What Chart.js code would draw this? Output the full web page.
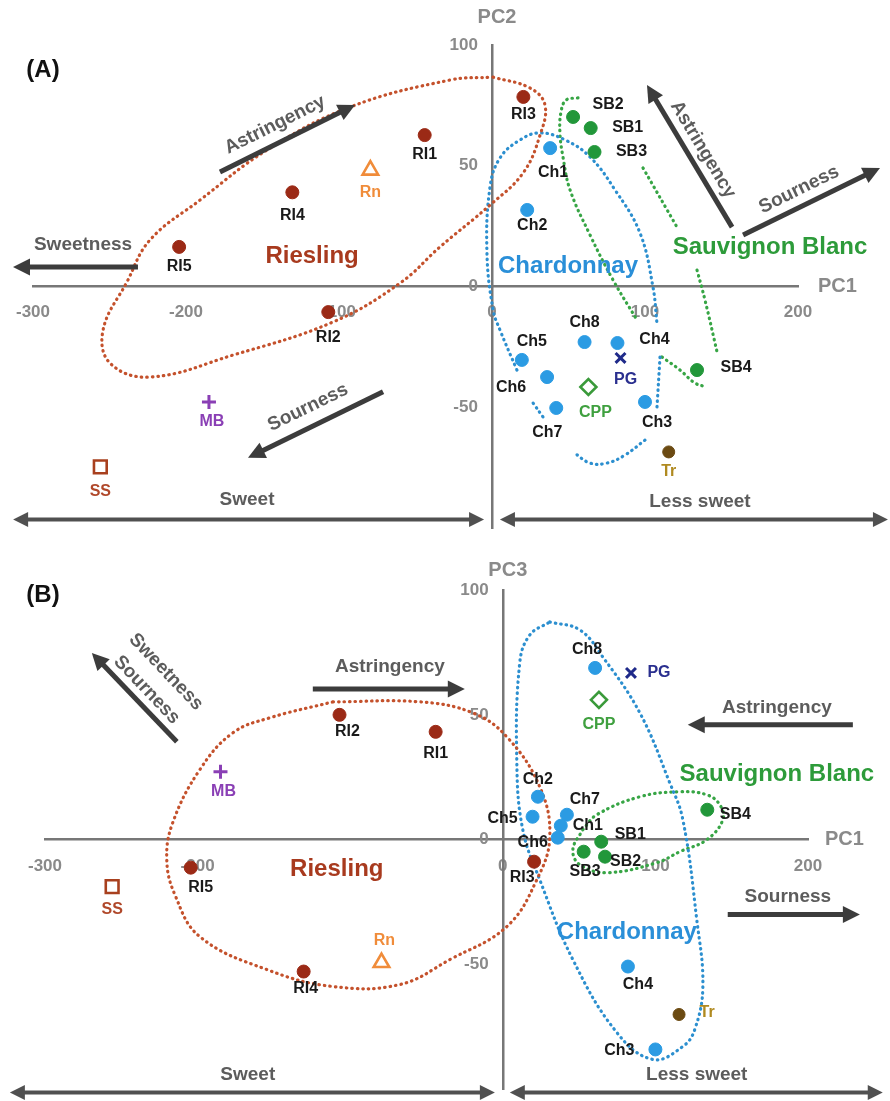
<!DOCTYPE html>
<html>
<head>
<meta charset="utf-8">
<script src="https://cdn.jsdelivr.net/npm/chart.js@4.4.1/dist/chart.umd.min.js"></script>
<style>
  html, body { margin: 0; padding: 0; background: #fff; }
  canvas { display: block; }
</style>
</head>
<body>
<canvas id="pcA" width="890" height="540"></canvas>
<canvas id="pcB" width="890" height="561"></canvas>
<script>
// PCA scores
const samples = ['RI1','RI2','RI3','RI4','RI5','Ch1','Ch2','Ch3','Ch4','Ch5','Ch6','Ch7','Ch8','SB1','SB2','SB3','SB4','Tr','Rn','SS','MB','PG','CPP'];
const sampleGroup = ['Riesling','Riesling','Riesling','Riesling','Riesling',
  'Chardonnay','Chardonnay','Chardonnay','Chardonnay','Chardonnay','Chardonnay','Chardonnay','Chardonnay',
  'Sauvignon Blanc','Sauvignon Blanc','Sauvignon Blanc','Sauvignon Blanc','Tr','Rn','SS','MB','PG','CPP'];
const pc1 = [-44, -107, 20.5, -130.5, -204.5, 38, 23, 100, 82, 19.5, 36, 42, 60.5, 64.5, 53, 67, 134, 115.5, -79.5, -256, -185, 84, 63];
const pc2 = [62.7, -10.6, 78.5, 39, 16.4, 57.3, 31.7, -47.8, -23.4, -30.4, -37.5, -50.3, -23, 65.6, 70.2, 55.7, -34.6, -68.5, 48.2, -74.7, -47.8, -29.6, -41.6];
const pc3 = [43.2, 50, -8.8, -52.8, -11.2, 5.6, 17.2, -84, -50.8, 9.2, 0.8, 10, 68.8, -0.8, -4.8, -6.8, 12, -70, -49.2, -18.8, 27.2, 66.8, 56];

const xTicksA = [-300, -200, -100, 0, 100, 200];
const xTicksB = [-300, -200, 0, 100, 200];   // -100 sits under the "Riesling" label in (B)
const yTicks = [100, 50, 0, -50];

// hand-drawn group outlines (PC1, PCy)
const rieslingA = [[0.7,86.7],[24.8,82.2],[34.6,75.2],[31.4,62.7],[20.3,47],[-1.3,33.7],[-34,16.4],[-60.1,1.4],[-103.9,-14.7],[-169.3,-28.4],[-223.5,-37.5],[-249.7,-31.7],[-254.2,-18],[-238.6,1.9],[-223.5,19.3],[-190.8,35.8],[-147.1,56.5],[-92.8,74.3],[-27.5,85.5],[0.7,86.7]];
const chardA1 = [[33.3,-54],[26.8,-48.2]];
const chardA2 = [[16.3,-34.6],[5.2,-18],[0.7,-9.7],[-3.3,13.9],[-1.3,41.2],[5.2,53.2],[18.3,60.7],[31.4,63.6],[47.7,60.7],[64.1,53.6],[80.4,40],[96.7,22.2],[105.2,-0.2],[107.8,-15.1]];
const chardA3 = [[109.8,-29.2],[107.8,-50.3]];
const chardA4 = [[100,-63.6],[86.9,-69.8],[75.2,-73.1],[64.1,-73.1],[52.9,-68.5]];
const sauvA1 = [[56.2,78.1],[48.4,77.2],[45.1,72.3],[44.4,63.6],[46.4,53.6],[51,40],[64.1,21.3],[79.1,2.7],[94.8,-13.9]];
const sauvA2 = [[98.7,49.1],[120.9,24.6]];
const sauvA3 = [[134,6.8],[139.2,-5.6],[147.1,-27.1]];
const sauvA4 = [[111.1,-29.2],[122.9,-34.6],[132.7,-40],[140.5,-41.6]];
const chardB = [[30.8,87.2],[50.5,84],[65.5,73.2],[89.8,50.8],[109.4,22.8],[118,8],[127.1,-32],[131.1,-58.8],[125.8,-76],[118,-82.8],[98.3,-88],[74.7,-77.2],[45.9,-48],[24.2,-16],[13.1,4],[9.2,30.8],[11.1,70.8],[17.7,82],[30.8,87.2]];
const rieslingB = [[-111.4,55.2],[-152.7,48.8],[-176.9,42.8],[-198.6,28],[-216.3,6.8],[-220.2,-8],[-214.9,-22],[-198.6,-38.8],[-154.7,-52],[-111.4,-58.8],[-67.5,-58],[-34.7,-48],[2.6,-34.8],[22.3,-16],[30.8,1.2],[24.2,21.2],[2.6,41.2],[-19.7,50.8],[-54.4,55.2],[-111.4,55.2]];
const sauvB = [[52.4,4],[61.6,10],[89.8,17.2],[116,19.2],[133.7,18],[142.2,14],[144.2,8],[133.7,0],[116,-4.8],[100.9,-9.2],[68.2,-13.2],[50.5,-10],[45.9,-4],[52.4,4]];

const FONT = '"Liberation Sans", Arial, sans-serif';
const RED = '#c4512c', BLUE = '#2c8fcf', GREEN = '#37a545';

const groupStyle = {
  'Riesling':        { color: '#9b2a16', style: 'circle',   r: 6.5, hollow: false, label: '#1a1a1a' },
  'Chardonnay':      { color: '#2b9be3', style: 'circle',   r: 6.5, hollow: false, label: '#1a1a1a' },
  'Sauvignon Blanc': { color: '#22973a', style: 'circle',   r: 6.5, hollow: false, label: '#1a1a1a' },
  'Tr':              { color: '#6b4a12', style: 'circle',   r: 6,   hollow: false, label: '#b08a20' },
  'Rn':              { color: '#f08c3a', style: 'triangle', r: 9,   hollow: true,  label: '#f08c3a' },
  'SS':              { color: '#a8401e', style: 'rect',     r: 9,   hollow: true,  label: '#b0482a' },
  'MB':              { color: '#8a3fb5', style: 'cross',    r: 7,   hollow: false, label: '#8a3fb5' },
  'PG':              { color: '#1f2a8a', style: 'crossRot', r: 7,   hollow: false, label: '#2a2f8f' },
  'CPP':             { color: '#3a9a3a', style: 'rectRot',  r: 8,   hollow: true,  label: '#3fa03f' }
};

const panelA = {
  tag: '(A)', tagAt: [43, 70], yTitle: 'PC2', yTitleGap: 28, xTitleGap: 20, xTicks: xTicksA,
  outlines: [[rieslingA, RED], [chardA1, BLUE], [chardA2, BLUE], [chardA3, BLUE], [chardA4, BLUE],
             [sauvA1, GREEN], [sauvA2, GREEN], [sauvA3, GREEN], [sauvA4, GREEN]],
  groupLabels: [
    { text: 'Riesling', at: [-117.6, 12.4], color: '#a83a1e' },
    { text: 'Chardonnay', at: [49.7, 8.3], color: '#2a8fd8' },
    { text: 'Sauvignon Blanc', at: [181.7, 16.1], color: '#2d9b3a' }
  ],
  arrows: [
    { from: [-177.8, 47.4], to: [-89.5, 75.2], texts: [['Astringency', -141.8, 66.9]] },
    { from: [-231.4, 8.1], to: [-313.1, 8.1], texts: [['Sweetness', -267.3, 17.2]] },
    { from: [156.9, 24.6], to: [101.3, 83.4], texts: [['Astringency', 137.9, 56.7]] },
    { from: [164.1, 21.3], to: [253.6, 49.1], texts: [['Sourness', 200.7, 40.1]] },
    { from: [-71.2, -43.6], to: [-159.5, -70.9], texts: [['Sourness', -120.3, -50.1]] },
    { from: [-313, -96.5], to: [-5.2, -96.5], both: true, texts: [['Sweet', -160.1, -88.2]] },
    { from: [5.2, -96.5], to: [258.8, -96.5], both: true, texts: [['Less sweet', 135.9, -89]] }
  ],
  offsets: { RI1:[0,20], RI2:[0,25], RI3:[0,18], RI4:[0,23], RI5:[0,20], Rn:[0,22], SS:[0,25], MB:[3,20],
    Ch1:[3,24], Ch2:[5,16], Ch3:[12,21], Ch4:[37,-3], Ch5:[10,-18], Ch6:[-36,11], Ch7:[-9,25], Ch8:[0,-19],
    PG:[5,22], CPP:[7,26], SB1:[37,0], SB2:[35,-12], SB3:[37,0], SB4:[39,-2], Tr:[0,20] }
};

const panelB = {
  tag: '(B)', tagAt: [43, 55], yTitle: 'PC3', yTitleGap: 20, xTitleGap: 17, xTicks: xTicksB,
  outlines: [[rieslingB, RED], [chardB, BLUE], [sauvB, GREEN]],
  groupLabels: [
    { text: 'Riesling', at: [-108.8, -12], color: '#a83a1e' },
    { text: 'Chardonnay', at: [81.3, -37.2], color: '#2a8fd8' },
    { text: 'Sauvignon Blanc', at: [179.6, 26], color: '#2d9b3a' }
  ],
  arrows: [
    { from: [-213.6, 39.2], to: [-269.3, 74.8], texts: [['Sweetness', -220.8, 67.2], ['Sourness', -233.3, 60]] },
    { from: [-124.5, 60.4], to: [-24.9, 60.4], texts: [['Astringency', -74, 69.2]] },
    { from: [229.4, 46], to: [121.2, 46], texts: [['Astringency', 179.6, 52.8]] },
    { from: [147.4, -30], to: [234, -30], texts: [['Sourness', 186.8, -22.8]] },
    { from: [-323, -101.2], to: [-5.2, -101.2], both: true, texts: [['Sweet', -167.1, -94]] },
    { from: [4.6, -101.2], to: [249, -101.2], both: true, texts: [['Less sweet', 127.1, -94]] }
  ],
  offsets: { RI1:[0,22], RI2:[8,17], RI3:[-12,16], RI4:[2,17], RI5:[10,20], Rn:[3,-22], SS:[0,23], MB:[3,20],
    Ch1:[27,0], Ch2:[0,-17], Ch3:[-36,1], Ch4:[10,18], Ch5:[-30,2], Ch6:[-25,5], Ch7:[18,-15], Ch8:[-8,-18],
    PG:[28,0], CPP:[0,25], SB1:[29,-7], SB2:[42,10], SB3:[-20,15], SB4:[28,5], Tr:[28,-2] }
};

function drawHead(ctx, x, y, ang, len, half) {
  ctx.beginPath();
  ctx.moveTo(x, y);
  ctx.lineTo(x - len * Math.cos(ang) + half * Math.sin(ang), y - len * Math.sin(ang) - half * Math.cos(ang));
  ctx.lineTo(x - len * Math.cos(ang) - half * Math.sin(ang), y - len * Math.sin(ang) + half * Math.cos(ang));
  ctx.closePath();
  ctx.fill();
}

function decor(cfg) {
  return {
    id: 'decor',
    afterDatasetsDraw(chart) {
      const ctx = chart.ctx, xs = chart.scales.x, ys = chart.scales.y;
      const px = (a, b) => [xs.getPixelForValue(a), ys.getPixelForValue(b)];
      ctx.save();
      ctx.textAlign = 'center';
      ctx.textBaseline = 'middle';

      // group names
      ctx.font = 'bold 24px ' + FONT;
      cfg.groupLabels.forEach(g => {
        const p = px(g.at[0], g.at[1]);
        ctx.fillStyle = g.color;
        ctx.fillText(g.text, p[0], p[1]);
      });

      // sample names
      ctx.font = 'bold 16px ' + FONT;
      chart.data.datasets.forEach((ds, di) => {
        if (!ds.labelColor) return;
        chart.getDatasetMeta(di).data.forEach((el, k) => {
          const name = ds.data[k].name;
          const off = cfg.offsets[name] || [0, 20];
          ctx.fillStyle = ds.labelColor;
          ctx.fillText(name, el.x + off[0], el.y + off[1]);
        });
      });

      // attribute arrows
      cfg.arrows.forEach(a => {
        const p0 = px(a.from[0], a.from[1]), p1 = px(a.to[0], a.to[1]);
        const ang = Math.atan2(p1[1] - p0[1], p1[0] - p0[0]);
        const lw = a.both ? 4 : 5, hl = a.both ? 15 : 17, hw = a.both ? 7.5 : 8.5;
        ctx.strokeStyle = a.both ? '#505050' : '#3c3c3c';
        ctx.fillStyle = ctx.strokeStyle;
        ctx.lineWidth = lw;
        ctx.lineCap = 'butt';
        const s = a.both ? hl - 2 : 0;
        ctx.beginPath();
        ctx.moveTo(p0[0] + s * Math.cos(ang), p0[1] + s * Math.sin(ang));
        ctx.lineTo(p1[0] - (hl - 2) * Math.cos(ang), p1[1] - (hl - 2) * Math.sin(ang));
        ctx.stroke();
        drawHead(ctx, p1[0], p1[1], ang, hl, hw);
        if (a.both) drawHead(ctx, p0[0], p0[1], ang + Math.PI, hl, hw);

        let rot = ang;
        if (Math.cos(ang) < -1e-6) rot += Math.PI;
        ctx.font = 'bold 19px ' + FONT;
        ctx.fillStyle = '#5c5c5c';
        a.texts.forEach(t => {
          const q = px(t[1], t[2]);
          ctx.save();
          ctx.translate(q[0], q[1]);
          ctx.rotate(rot);
          ctx.fillText(t[0], 0, 0);
          ctx.restore();
        });
      });

      // axis titles and panel tag
      ctx.fillStyle = '#8a8a8a';
      ctx.font = 'bold 20px ' + FONT;
      ctx.textAlign = 'left';
      ctx.fillText('PC1', xs.right + cfg.xTitleGap, ys.getPixelForValue(0));
      ctx.textAlign = 'center';
      ctx.fillText(cfg.yTitle, xs.getPixelForValue(0) + 5, ys.top - cfg.yTitleGap);
      ctx.fillStyle = '#111';
      ctx.font = 'bold 24px ' + FONT;
      ctx.fillText(cfg.tag, cfg.tagAt[0], cfg.tagAt[1]);
      ctx.restore();
    }
  };
}

function makeChart(id, yValues, cfg, pad) {
  const datasets = [];
  cfg.outlines.forEach(o => {
    datasets.push({
      data: o[0].map(p => ({ x: p[0], y: p[1] })),
      showLine: true, borderColor: o[1], borderWidth: 3.2, borderDash: [0.5, 5],
      borderCapStyle: 'round', pointRadius: 0, tension: 0.4, order: 2
    });
  });
  Object.keys(groupStyle).forEach(g => {
    const st = groupStyle[g];
    const data = [];
    samples.forEach((s, i) => { if (sampleGroup[i] === g) data.push({ x: pc1[i], y: yValues[i], name: s }); });
    datasets.push({
      data, pointStyle: st.style, pointRadius: st.r,
      backgroundColor: st.hollow ? '#ffffff' : st.color, borderColor: st.color,
      borderWidth: st.hollow ? 2.6 : (st.style.startsWith('cross') ? 3 : 1),
      labelColor: st.label, order: 1
    });
  });

  const tickFont = { size: 17, weight: 'bold', family: FONT };
  return new Chart(document.getElementById(id), {
    type: 'scatter',
    data: { datasets },
    options: {
      responsive: false,
      animation: false,
      layout: { padding: pad },
      plugins: { legend: { display: false }, tooltip: { enabled: false } },
      scales: {
        x: {
          type: 'linear', min: -300, max: 200, position: { y: 0 },
          afterFit: s => { s.height = 0; },
          afterBuildTicks: s => { s.ticks = cfg.xTicks.map(v => ({ value: v })); },
          grid: { display: true, drawOnChartArea: false, drawTicks: false },
          border: { display: true, color: '#777', width: 2.5 },
          ticks: { color: '#8a8a8a', font: tickFont, padding: 16, maxRotation: 0, autoSkip: false }
        },
        y: {
          type: 'linear', min: -100, max: 100, position: { x: 0 },
          afterFit: s => { s.width = 0; },
          afterBuildTicks: s => { s.ticks = yTicks.map(v => ({ value: v })); },
          grid: { display: true, drawOnChartArea: false, drawTicks: false },
          border: { display: true, color: '#777', width: 2.5 },
          // centred axis: labels are right-aligned on the axis line, so pad with spaces
          ticks: { color: '#8a8a8a', font: tickFont, padding: 0, autoSkip: false, callback: v => v + '   ' }
        }
      }
    },
    plugins: [decor(cfg)]
  });
}

makeChart('pcA', pc2, panelA, { left: 33, right: 92, top: 45, bottom: 12 });
makeChart('pcB', pc3, panelB, { left: 45, right: 82, top: 50, bottom: 11 });
</script>
</body>
</html>
